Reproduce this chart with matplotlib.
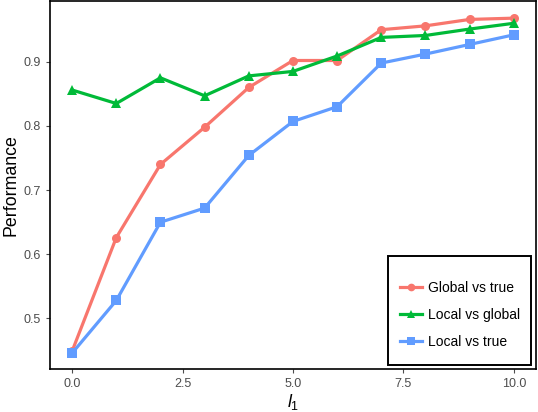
import numpy as np
import matplotlib.pyplot as plt
from matplotlib.patches import Rectangle

plt.rcParams['font.family'] = ['Liberation Sans', 'DejaVu Sans']
plt.rcParams['mathtext.fontset'] = 'custom'
plt.rcParams['mathtext.it'] = 'Liberation Sans:italic'
plt.rcParams['mathtext.rm'] = 'Liberation Sans'

# data
l1 = [0, 1, 2, 3, 4, 5, 6, 7, 8, 9, 10]
global_vs_true = [0.449, 0.626, 0.740, 0.798, 0.860, 0.902, 0.902, 0.950, 0.956, 0.966, 0.968]
local_vs_global = [0.856, 0.835, 0.875, 0.847, 0.878, 0.885, 0.909, 0.938, 0.941, 0.951, 0.960]
local_vs_true = [0.446, 0.528, 0.650, 0.672, 0.754, 0.807, 0.830, 0.898, 0.912, 0.927, 0.942]

series = [
    ("Global vs true", global_vs_true, "#F8766D", "o"),
    ("Local vs global", local_vs_global, "#00BA38", "^"),
    ("Local vs true", local_vs_true, "#619CFF", "s"),
]

fig = plt.figure(figsize=(5.38, 4.12), dpi=100)
ax = fig.add_axes([0.093, 0.104, 0.903, 0.894])

for name, vals, col, mk in series:
    ax.plot(l1, vals, color=col, marker=mk, markersize=6.5, linewidth=2.3,
            markeredgewidth=0, label=name)

ax.set_xlim(-0.5, 10.5)
ax.set_ylim(0.421, 0.995)
ax.set_xticks([0, 2.5, 5, 7.5, 10])
ax.set_xticklabels(["0.0", "2.5", "5.0", "7.5", "10.0"])
ax.set_yticks([0.5, 0.6, 0.7, 0.8, 0.9])
ax.tick_params(axis='both', colors='#4D4D4D', labelsize=9, length=3, width=0.8)
for s in ax.spines.values():
    s.set_color('black')
    s.set_linewidth(1.2)

ax.set_xlabel(r'$l_1$', fontsize=12.8, labelpad=1)
ax.set_ylabel("Performance", fontsize=12.8, labelpad=3)

# ggplot-style legend box: keys sit lower than centre, so draw the frame ourselves
ax.add_patch(Rectangle((0.695, 0.0114), 0.295, 0.2956, transform=ax.transAxes,
                       facecolor='white', edgecolor='black', linewidth=1.4,
                       zorder=4))
leg = ax.legend(loc='lower left', frameon=False, fontsize=10,
                handlelength=1.6, handletextpad=0.45, borderpad=0.0,
                labelspacing=0.95, markerscale=0.85,
                bbox_to_anchor=(0.720, 0.055), borderaxespad=0.0)
leg.set_zorder(5)

fig.savefig("out.png", dpi=100)
